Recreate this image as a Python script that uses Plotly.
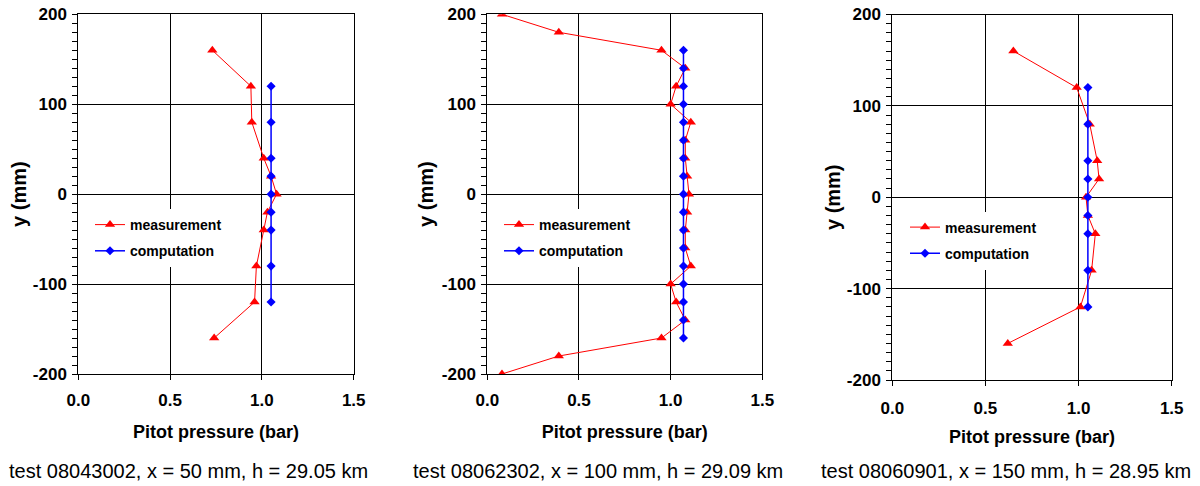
import plotly.graph_objects as go

# ---- data ----
y1_meas = [160, 120, 80, 40, 20, 0, -20, -40, -80, -120, -160]
p1_meas = [0.73, 0.94, 0.945, 1.01, 1.05, 1.08, 1.03, 1.01, 0.97, 0.96, 0.74]
y1_comp = [120, 80, 40, 20, 0, -20, -40, -80, -120]
p1_comp = [1.05, 1.05, 1.05, 1.05, 1.05, 1.05, 1.05, 1.05, 1.05]

y2_meas = [200, 180, 160, 140, 120, 100, 80, 60, 40, 20, 0, -20, -40, -60, -80, -100, -120, -140, -160, -180, -200]
p2_meas = [0.08, 0.39, 0.95, 1.08, 1.03, 1.00, 1.11, 1.08, 1.08, 1.09, 1.10, 1.09, 1.08, 1.08, 1.11, 1.00, 1.03, 1.08, 0.95, 0.39, 0.08]
y2_comp = [160, 140, 120, 100, 80, 60, 40, 20, 0, -20, -40, -60, -80, -100, -120, -140, -160]
p2_comp = [1.07] * 17

y3_meas = [160, 120, 80, 40, 20, 0, -20, -40, -80, -120, -160]
p3_meas = [0.65, 0.99, 1.06, 1.10, 1.11, 1.04, 1.05, 1.09, 1.07, 1.01, 0.62]
y3_comp = [120, 80, 40, 20, 0, -20, -40, -80, -120]
p3_comp = [1.05, 1.05, 1.05, 1.05, 1.05, 1.05, 1.05, 1.05, 1.05]

y_tickvals = [-200, -100, 0, 100, 200]
y_ticktext = ["-200", "-100", "0", "100", "200"]
x_tickvals = [0, 0.5, 1.0, 1.5]
x_ticktext = ["0.0", "0.5", "1.0", "1.5"]

captions = [
    "test 08043002, x = 50 mm, h = 29.05 km",
    "test 08062302, x = 100 mm, h = 29.09 km",
    "test 08060901, x = 150 mm, h = 28.95 km",
]
x_title = "Pitot pressure (bar)"
y_title = "y (mm)"
series_names = ["measurement", "computation"]

FONT = "Arial, Liberation Sans, sans-serif"
# the page body adds an 8px margin; the figure fills the rest of the 1200x486 window
OFF = 8
W, H = 1200 - OFF, 486 - OFF


def px(x):
    return (x - OFF) / W


def py(y):
    return 1 - (y - OFF) / H


panels = [
    dict(meas=(p1_meas, y1_meas), comp=(p1_comp, y1_comp),
         xd=(78.3, 353.7), yd=(14.3, 374), leg=(90, 209), cap=188,
         xlab=6, xstand=15, ystand=3),
    dict(meas=(p2_meas, y2_meas), comp=(p2_comp, y2_comp),
         xd=(487.3, 762.3), yd=(14.3, 374), leg=(499, 209), cap=597.5,
         xlab=6, xstand=15, ystand=2),
    dict(meas=(p3_meas, y3_meas), comp=(p3_comp, y3_comp),
         xd=(892.3, 1171.7), yd=(14.5, 380), leg=(905, 211.5), cap=1006,
         xlab=8, xstand=12, ystand=0),
]

fig = go.Figure()
layout = dict(
    width=W, height=H,
    margin=dict(l=0, r=0, t=0, b=0, autoexpand=False),
    paper_bgcolor="white", plot_bgcolor="white",
    font=dict(family=FONT, color="black"),
    showlegend=True,
)
annotations = []

for i, p in enumerate(panels):
    n = "" if i == 0 else str(i + 1)
    xa, ya = "x" + n, "y" + n
    leg = "legend" + n
    fig.add_trace(go.Scatter(
        x=p["meas"][0], y=p["meas"][1], mode="lines+markers", name=series_names[0],
        line=dict(color="#FF0000", width=1),
        marker=dict(symbol="triangle-up", size=9, color="#FF0000"),
        xaxis=xa, yaxis=ya, legend=leg, legendgroup="m",
    ))
    fig.add_trace(go.Scatter(
        x=p["comp"][0], y=p["comp"][1], mode="lines+markers", name=series_names[1],
        line=dict(color="#0000FF", width=1.5),
        marker=dict(symbol="diamond", size=7, color="#0000FF"),
        xaxis=xa, yaxis=ya, legend=leg, legendgroup="c",
    ))
    x0, x1 = p["xd"]
    y0, y1 = p["yd"]
    layout["xaxis" + n] = dict(
        domain=[px(x0), px(x1)], anchor=ya, range=[0, 1.5],
        tickmode="array", tickvals=x_tickvals, ticktext=x_ticktext,
        showgrid=True, gridcolor="black", gridwidth=1, automargin=False,
        zeroline=False, showline=True, linecolor="black", linewidth=1, mirror=True,
        ticks="outside", ticklen=5, tickcolor="black", ticklabelstandoff=p["xlab"],
        ticklabeloverflow="allow",
        tickfont=dict(size=17, weight="bold", family=FONT),
        title=dict(text=x_title, font=dict(size=18, weight="bold", family=FONT),
                   standoff=p["xstand"]),
    )
    layout["yaxis" + n] = dict(
        domain=[py(y1), py(y0)], anchor=xa, range=[-200, 200],
        tickmode="array", tickvals=y_tickvals, ticktext=y_ticktext,
        showgrid=True, gridcolor="black", gridwidth=1, automargin=False,
        zeroline=False, showline=True, linecolor="black", linewidth=1, mirror=True,
        ticks="outside", ticklen=5, tickcolor="black", ticklabelstandoff=2,
        ticklabeloverflow="allow",
        minor=dict(dtick=10, tick0=0, ticks="outside", ticklen=5, tickcolor="black", showgrid=False),
        tickfont=dict(size=17, weight="bold", family=FONT),
        title=dict(text=y_title, font=dict(size=20, weight="bold", family=FONT),
                   standoff=p["ystand"]),
    )
    lx, ly = p["leg"]
    layout[leg] = dict(
        x=px(lx), y=py(ly), xanchor="left", yanchor="top",
        bgcolor="white", borderwidth=0, traceorder="grouped", tracegroupgap=5,
        font=dict(size=14, weight="bold", family=FONT),
    )
    annotations.append(dict(
        text=captions[i], x=px(p["cap"]), y=py(471), xref="paper", yref="paper",
        showarrow=False, xanchor="center", yanchor="middle",
        font=dict(size=20, family=FONT, color="black"),
    ))

layout["annotations"] = annotations
fig.update_layout(**layout)
fig.write_html("out.html")
